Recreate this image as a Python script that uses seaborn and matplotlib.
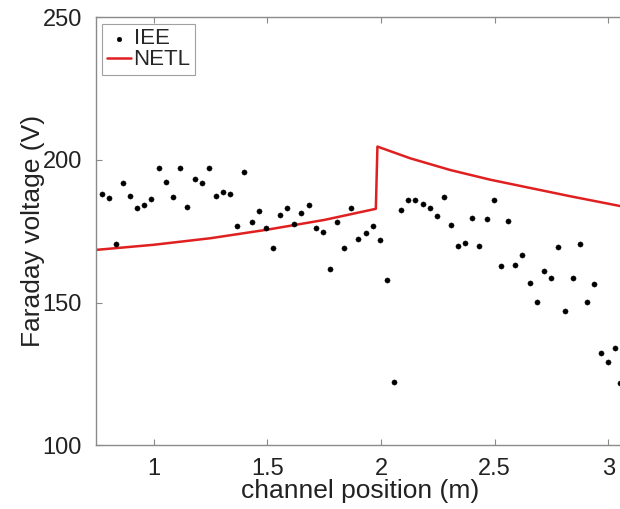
import numpy as np
import pandas as pd
import matplotlib
matplotlib.use("Agg")
import matplotlib.pyplot as plt
import seaborn as sns

# IEE measurements along the channel
iee_x = [0.771, 0.803, 0.834, 0.865, 0.896, 0.928, 0.959, 0.989, 1.022, 1.054,
         1.084, 1.114, 1.145, 1.180, 1.212, 1.243, 1.274, 1.305, 1.336, 1.368,
         1.399, 1.431, 1.462, 1.493, 1.524, 1.556, 1.588, 1.617, 1.649, 1.682,
         1.713, 1.744, 1.774, 1.805, 1.837, 1.868, 1.899, 1.933, 1.965, 1.996,
         2.026, 2.059, 2.089, 2.120, 2.151, 2.183, 2.216, 2.246, 2.277, 2.308,
         2.340, 2.371, 2.402, 2.432, 2.465, 2.496, 2.528, 2.560, 2.590, 2.622,
         2.656, 2.686, 2.718, 2.749, 2.780, 2.811, 2.843, 2.874, 2.905, 2.937,
         2.968, 2.999, 3.031, 3.051]
iee_v = [188.2, 186.8, 170.4, 192.1, 187.3, 183.1, 184.3, 186.4, 197.1, 192.3,
         187.0, 197.3, 183.6, 193.3, 192.1, 197.1, 187.5, 188.9, 188.1, 176.9,
         195.9, 178.4, 182.2, 176.2, 169.2, 180.7, 183.3, 177.5, 181.5, 184.3,
         176.1, 174.7, 161.8, 178.2, 169.2, 183.3, 172.3, 174.4, 177.0, 172.0,
         157.8, 122.2, 182.4, 185.9, 186.1, 184.6, 183.3, 180.4, 187.1, 177.4,
         169.9, 170.9, 179.7, 169.9, 179.4, 185.9, 162.8, 178.8, 163.2, 166.7,
         157.0, 150.4, 161.2, 158.7, 169.5, 147.1, 158.7, 170.4, 150.1, 156.7,
         132.5, 129.1, 134.3, 122.0]

# NETL model prediction
netl_x = [0.745, 1.0, 1.25, 1.5, 1.75, 1.977, 1.984, 2.128, 2.304, 2.480,
          2.656, 2.832, 3.037, 3.073]
netl_v = [168.5, 170.3, 172.6, 175.6, 179.0, 182.9, 204.7, 200.6, 196.5, 193.1,
          190.2, 187.3, 184.1, 183.5]

x_ticks = [1, 1.5, 2, 2.5, 3]
y_ticks = [100, 150, 200, 250]

sns.set_theme(style="white")
plt.rcParams["font.family"] = ["Liberation Sans", "DejaVu Sans"]

fig = plt.figure(figsize=(6.2, 5.09), dpi=100)
ax = fig.add_axes([0.1544, 0.1248, 0.8537, 0.8413])

iee = pd.DataFrame({"x": iee_x, "v": iee_v})
netl = pd.DataFrame({"x": netl_x, "v": netl_v})

sns.scatterplot(data=iee, x="x", y="v", ax=ax, color="black", s=14,
                edgecolor="black", linewidth=0.3, label="IEE", zorder=3)
sns.lineplot(data=netl, x="x", y="v", ax=ax, color="#e02020", linewidth=1.8,
             sort=False, estimator=None, label="NETL", zorder=2)

ax.set_xlim(0.745, 3.073)
ax.set_ylim(100, 250)
ax.set_xticks(x_ticks)
ax.set_xticklabels([f"{t:g}" for t in x_ticks])
ax.set_yticks(y_ticks)

for side in ["left", "bottom", "top", "right"]:
    ax.spines[side].set_color("#8a8a8a")
    ax.spines[side].set_linewidth(1.0)
ax.tick_params(axis="both", direction="in", length=4, width=0.8,
               color="#8a8a8a", labelsize=17, labelcolor="#222222",
               top=True, bottom=True, left=True, right=False)
ax.tick_params(axis="x", pad=9)
ax.tick_params(axis="y", pad=10)

ax.set_xlabel("channel position (m)", fontsize=19, color="#222222", labelpad=-1)
ax.set_ylabel("Faraday voltage (V)", fontsize=19, color="#222222", labelpad=-2)

leg = ax.legend(loc="upper left", fontsize=16, frameon=True, fancybox=False,
                borderpad=0.2, handlelength=1.1, handletextpad=0.1,
                labelspacing=0.0, borderaxespad=0.3, markerscale=0.9)
leg.get_frame().set_edgecolor("#8a8a8a")
leg.get_frame().set_linewidth(0.8)

fig.savefig("out.png", dpi=100)
